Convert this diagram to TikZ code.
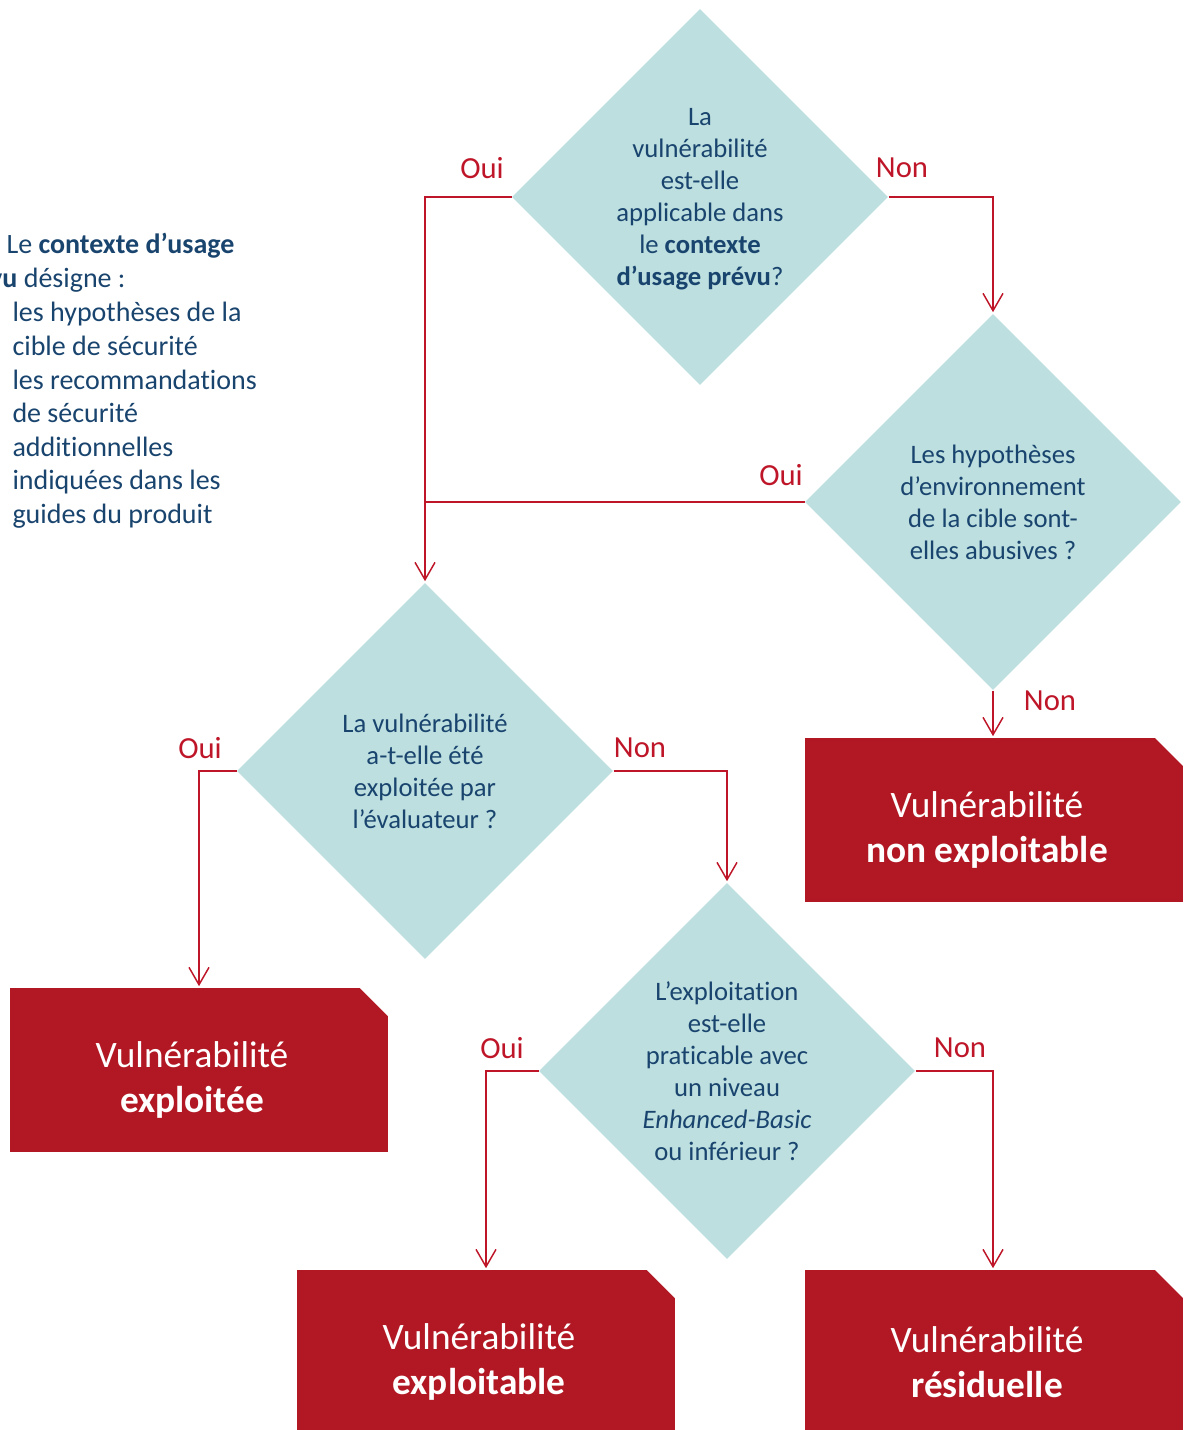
\documentclass[tikz,border=0pt]{standalone}
\usepackage{fontspec}
\setmainfont{Carlito}[Ligatures=NoCommon]
\usetikzlibrary{shapes.geometric,arrows.meta,calc}

\definecolor{diafill}{RGB}{189,223,224}
\definecolor{verdictred}{RGB}{178,24,36}
\definecolor{linkred}{RGB}{190,22,40}
\definecolor{textblue}{RGB}{25,68,110}

\tikzset{every picture/.style={line width=0.75pt}}
\tikzset{
  question/.style={diamond, aspect=1, fill=diafill, minimum size=282pt, inner sep=0pt,
    text=textblue, align=center, font=\fontsize{20}{24}\selectfont},
  verdict/.style={rectangle, fill=verdictred, minimum width=283.5pt, minimum height=123pt,
    path picture={\fill[white] (path picture bounding box.north east)
      -- ($(path picture bounding box.north east)!21pt!(path picture bounding box.north west)$)
      -- ($(path picture bounding box.north east)!21pt!(path picture bounding box.south east)$) -- cycle;}},
  verdicttext/.style={text=white, align=center, inner sep=0pt, font=\fontsize{28}{34}\selectfont},
  link/.style={draw=linkred, line width=1.1pt},
  linkarrow/.style={link, -{Straight Barb[length=13pt,width=15pt]}, shorten >=1pt},
  answer/.style={text=linkred, font=\fontsize{23}{28}\selectfont, inner sep=0.75pt},
  note/.style={text=textblue, font=\fontsize{21}{25.2}\selectfont, inner sep=0.75pt},
}

\begin{document}
\begin{tikzpicture}[x=0.75pt,y=0.75pt,yscale=-1,xscale=1]
\useasboundingbox (0,0) rectangle (1184,1430);

% Questions
\node[question] (q1) at (700,197) {\\[-8pt]La\\vulnérabilité\\est-elle\\applicable dans\\le \textbf{contexte}\\\textbf{d’usage prévu}?};
\node[question] (q2) at (993,502) {Les hypothèses\\d’environnement\\de la cible sont-\\elles abusives ?};
\node[question] (q3) at (425,771) {La vulnérabilité\\a-t-elle été\\exploitée par\\l’évaluateur ?};
\node[question] (q4) at (727,1071) {L’exploitation\\est-elle\\praticable avec\\un niveau\\\textit{Enhanced-Basic}\\ou inférieur ?};

% Verdicts
\node[verdict] (nonexpl) at (994,820) {};
\node[verdict] (exploitee) at (199,1070) {};
\node[verdict] (exploitable) at (486,1352) {};
\node[verdict] (residuelle) at (994,1352) {};
\node[verdicttext] (nonexpl-txt) at (987,830) {Vulnérabilité\\\textbf{non exploitable}};
\node[verdicttext] (exploitee-txt) at (192,1080) {Vulnérabilité\\\textbf{exploitée}};
\node[verdicttext] (exploitable-txt) at (479,1362) {Vulnérabilité\\\textbf{exploitable}};
\node[verdicttext] (residuelle-txt) at (987,1362) {Vulnérabilité\\\textbf{résiduelle}};

% Connectors
\coordinate (merge) at (q2.west -| q3.north);
\draw[linkarrow] (q1.west) -| (q3.north);
\draw[linkarrow] (q1.east) -| (q2.north);
\draw[link] (q2.west) -- (merge);
\draw[linkarrow] (q2.south) -- (nonexpl.north -| q2.south);
\draw[linkarrow] (q3.west) -| (exploitee.north);
\draw[linkarrow] (q3.east) -| (q4.north);
\draw[linkarrow] (q4.west) -| (exploitable.north);
\draw[linkarrow] (q4.east) -| (residuelle.north -| q2.south);

% Answers
\node[answer] (a1) at (482,168) {Oui};
\node[answer] (a2) at (902,168) {Non};
\node[answer] (a3) at (781,475) {Oui};
\node[answer] (a4) at (1050,701) {Non};
\node[answer] (a5) at (200,748) {Oui};
\node[answer] (a6) at (640,748) {Non};
\node[answer] (a7) at (502,1048) {Oui};
\node[answer] (a8) at (960,1048) {Non};

% Side note
\node[note, anchor=west] (ctx) at (5,246) {Le \textbf{contexte d’usage}};
\node[note, anchor=east] (ctx2) at (127,280) {\textbf{prévu} désigne :};
\node[note, anchor=north west, align=left] (ctxlist) at (11,301) {les hypothèses de la\\cible de sécurité\\les recommandations\\de sécurité\\additionnelles\\indiquées dans les\\guides du produit};
\end{tikzpicture}
\end{document}
